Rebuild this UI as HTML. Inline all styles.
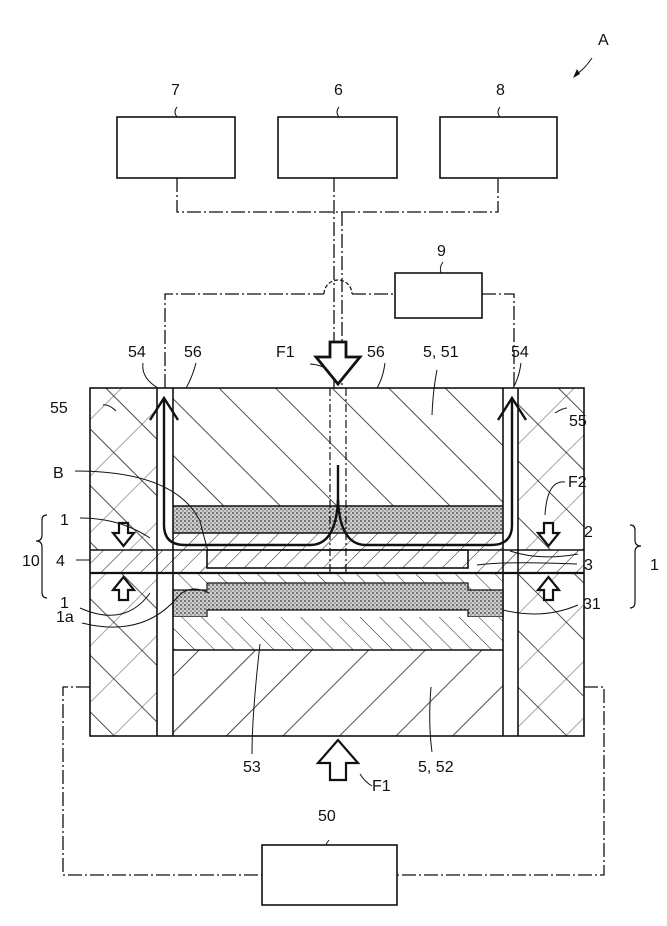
<!DOCTYPE html>
<html><head><meta charset="utf-8"><style>body{margin:0;background:#fff}svg{display:block}text{font-family:"Liberation Sans",sans-serif;font-size:16px;fill:#111}</style></head><body>
<svg width="667" height="926" viewBox="0 0 667 926">
<defs>
<pattern id="hb" width="40" height="40" patternUnits="userSpaceOnUse" patternTransform="rotate(45)"><line x1="0" y1="0" x2="0" y2="40" stroke="#222" stroke-width="1.6"/></pattern>
<pattern id="hf" width="40" height="40" patternUnits="userSpaceOnUse" patternTransform="rotate(-45)"><line x1="0" y1="0" x2="0" y2="40" stroke="#222" stroke-width="1.6"/></pattern>
<pattern id="hs" width="14" height="14" patternUnits="userSpaceOnUse" patternTransform="rotate(-45)"><line x1="0" y1="0" x2="0" y2="14" stroke="#222" stroke-width="1"/></pattern>
<pattern id="hs2" width="14" height="14" patternUnits="userSpaceOnUse" patternTransform="rotate(45)"><line x1="0" y1="0" x2="0" y2="14" stroke="#222" stroke-width="1"/></pattern>
<pattern id="dots" width="4" height="4" patternUnits="userSpaceOnUse"><rect width="4" height="4" fill="#cfcfcf"/><circle cx="1" cy="1" r="0.9" fill="#333"/><circle cx="3" cy="3" r="0.7" fill="#666"/></pattern>
</defs>
<g fill="none" stroke="#111" stroke-width="1.6">
<rect x="117" y="117" width="118" height="61" fill="#fff"/>
<rect x="278" y="117" width="119" height="61" fill="#fff"/>
<rect x="440" y="117" width="117" height="61" fill="#fff"/>
<rect x="395" y="273" width="87" height="45" fill="#fff"/>
<rect x="262" y="845" width="135" height="60" fill="#fff"/>
</g>
<g fill="none" stroke="#111" stroke-width="1.3" stroke-dasharray="14,3,2,3">
<polyline points="177,178 177,212 498,212 498,178"/>
<line x1="334" y1="178" x2="334" y2="388"/><line x1="342" y1="212" x2="342" y2="388"/>
<polyline points="165,388 165,294 324,294"/><line x1="352" y1="294" x2="395" y2="294"/>
<polyline points="482,294 514,294 514,388"/>
<polyline points="90,687 63,687 63,875 262,875"/>
<polyline points="584,687 604,687 604,875 397,875"/>
</g>
<path d="M324,294 a14,14 0 0 1 28,0" fill="none" stroke="#111" stroke-width="1.2" stroke-dasharray="4,2"/>
<rect x="90" y="388" width="67" height="348" fill="url(#hf)"/>
<rect x="90" y="388" width="67" height="348" fill="url(#hb)" opacity="0.5"/>
<rect x="518" y="388" width="66" height="348" fill="url(#hf)"/>
<rect x="518" y="388" width="66" height="348" fill="url(#hb)" opacity="0.5"/>
<rect x="173" y="388" width="330" height="118" fill="url(#hf)"/>
<rect x="173" y="506" width="330" height="27" fill="url(#dots)"/>
<rect x="173" y="533" width="330" height="17" fill="url(#hs2)"/>
<rect x="90" y="550" width="494" height="23" fill="#fff"/>
<rect x="90" y="550" width="494" height="23" fill="url(#hs2)"/>
<rect x="207" y="550" width="261" height="18" fill="#fff"/>
<rect x="207" y="550" width="261" height="18" fill="url(#hs2)"/>
<rect x="207" y="568" width="261" height="5" fill="#fff"/>
<rect x="173" y="573" width="330" height="17" fill="url(#hs)"/>
<path d="M173,590 H207 V583 H468 V590 H503 V617 H468 V610 H207 V617 H173Z" fill="url(#dots)" stroke="#111" stroke-width="1.2"/>
<rect x="173" y="617" width="330" height="33" fill="#fff"/>
<rect x="173" y="617" width="330" height="33" fill="url(#hs)"/>
<rect x="173" y="650" width="330" height="86" fill="url(#hb)"/>
<g fill="none" stroke="#111" stroke-width="1.6">
<rect x="90" y="388" width="494" height="348"/>
<line x1="157" y1="388" x2="157" y2="736"/><line x1="173" y1="388" x2="173" y2="736"/>
<line x1="503" y1="388" x2="503" y2="736"/><line x1="518" y1="388" x2="518" y2="736"/>
<line x1="173" y1="506" x2="503" y2="506"/><line x1="173" y1="533" x2="503" y2="533"/>
<line x1="90" y1="550" x2="584" y2="550"/><line x1="90" y1="573" x2="584" y2="573" stroke-width="2.2"/>
<rect x="207" y="550" width="261" height="18"/>
<line x1="173" y1="650" x2="503" y2="650"/>
</g>
<g fill="none" stroke="#111" stroke-width="1.2" stroke-dasharray="8,3,2,3">
<line x1="330" y1="388" x2="330" y2="573"/><line x1="346" y1="388" x2="346" y2="573"/>
</g>
<g fill="none" stroke="#111" stroke-width="2.4">
<path d="M164,400 V525 Q164,545 185,545 H310 Q336,545 338,500"/>
<path d="M512,400 V525 Q512,545 491,545 H366 Q340,545 338,500"/>
<line x1="338" y1="465" x2="338" y2="505"/>
<polyline points="150,420 164,398 178,420"/>
<polyline points="498,420 512,398 526,420"/>
</g>
<g fill="#fff" stroke="#111" stroke-width="2.2">
<path d="M330,342 H346 V357 H360 L338,384 L316,357 H330Z" stroke-width="2.8"/>
<path d="M330,780 H346 V763 H358 L338,740 L318,763 H330Z" stroke-width="2.2"/>
<path d="M119,523 h9 v10 h6 l-10.5,13 l-10.5,-13 h6z"/>
<path d="M119,600 h9 v-10 h6 l-10.5,-13 l-10.5,13 h6z"/>
<path d="M544,523 h9 v10 h6 l-10.5,13 l-10.5,-13 h6z"/>
<path d="M544,600 h9 v-10 h6 l-10.5,-13 l-10.5,13 h6z"/>
</g>
<g fill="none" stroke="#111" stroke-width="1">
<path d="M177,107 q-4,5 0,10"/><path d="M339,107 q-4,5 0,10"/><path d="M500,107 q-4,5 0,10"/>
<path d="M443,262 q-4,5 -2,11"/><path d="M329,840 q-4,5 -2,5"/>
<path d="M143,363 q-2,15 15,25"/><path d="M196,363 q-4,15 -10,25"/><path d="M521,363 q-2,15 -8,25"/>
<path d="M385,363 q-2,15 -8,25"/><path d="M437,370 q-4,20 -5,45"/>
<path d="M103,405 q6,-1 13,6"/><path d="M555,413 q8,-5 12,-5"/>
<path d="M75,471 q100,0 125,50 q5,20 8,30"/>
<path d="M80,518 q40,0 70,20"/>
<path d="M565,482 q-18,-2 -20,33"/>
<path d="M76,560 h14"/><path d="M510,551 q30,10 68,3"/>
<path d="M477,565 q30,-4 100,-1"/><path d="M503,610 q40,10 75,-5"/>
<path d="M80,608 q45,20 70,-15"/>
<path d="M82,623 q60,15 95,-25 q12,-15 32,-5"/>
<path d="M252,754 q0,-40 8,-110"/><path d="M432,752 q-4,-30 -1,-65"/>
<path d="M360,774 q5,8 12,12"/><path d="M330,373 q-5,-8 -20,-9"/>
<path d="M592,58 q-8,12 -18,18"/>
</g>
<path d="M573,78 l4,-9 l3,5z" fill="#111"/>
<g>
<text x="171" y="95">7</text><text x="334" y="95">6</text><text x="496" y="95">8</text>
<text x="437" y="256">9</text><text x="598" y="45" font-size="17">A</text>
<text x="276" y="357">F1</text>
<text x="128" y="357">54</text><text x="184" y="357">56</text><text x="367" y="357">56</text>
<text x="423" y="357">5, 51</text><text x="511" y="357">54</text>
<text x="50" y="413">55</text><text x="569" y="426">55</text>
<text x="53" y="478">B</text><text x="568" y="487">F2</text>
<text x="60" y="525">1</text><text x="584" y="537">2</text>
<text x="22" y="566">10</text><text x="56" y="566">4</text>
<text x="584" y="570">3</text>
<text x="60" y="608">1</text><text x="583" y="609">31</text>
<text x="56" y="622">1a</text><text x="650" y="570">1</text>
<text x="243" y="772">53</text><text x="418" y="772">5, 52</text>
<text x="372" y="791">F1</text><text x="318" y="821">50</text>
</g>
<g fill="none" stroke="#111" stroke-width="1.2">
<path d="M47,515 q-5,0 -5,5 v15 q0,6 -6,6 q6,0 6,6 v45 q0,6 5,6"/>
<path d="M630,525 q5,0 5,5 v10 q0,6 6,6 q-6,0 -6,6 v50 q0,6 -5,6"/>
</g>
</svg>
</body></html>
